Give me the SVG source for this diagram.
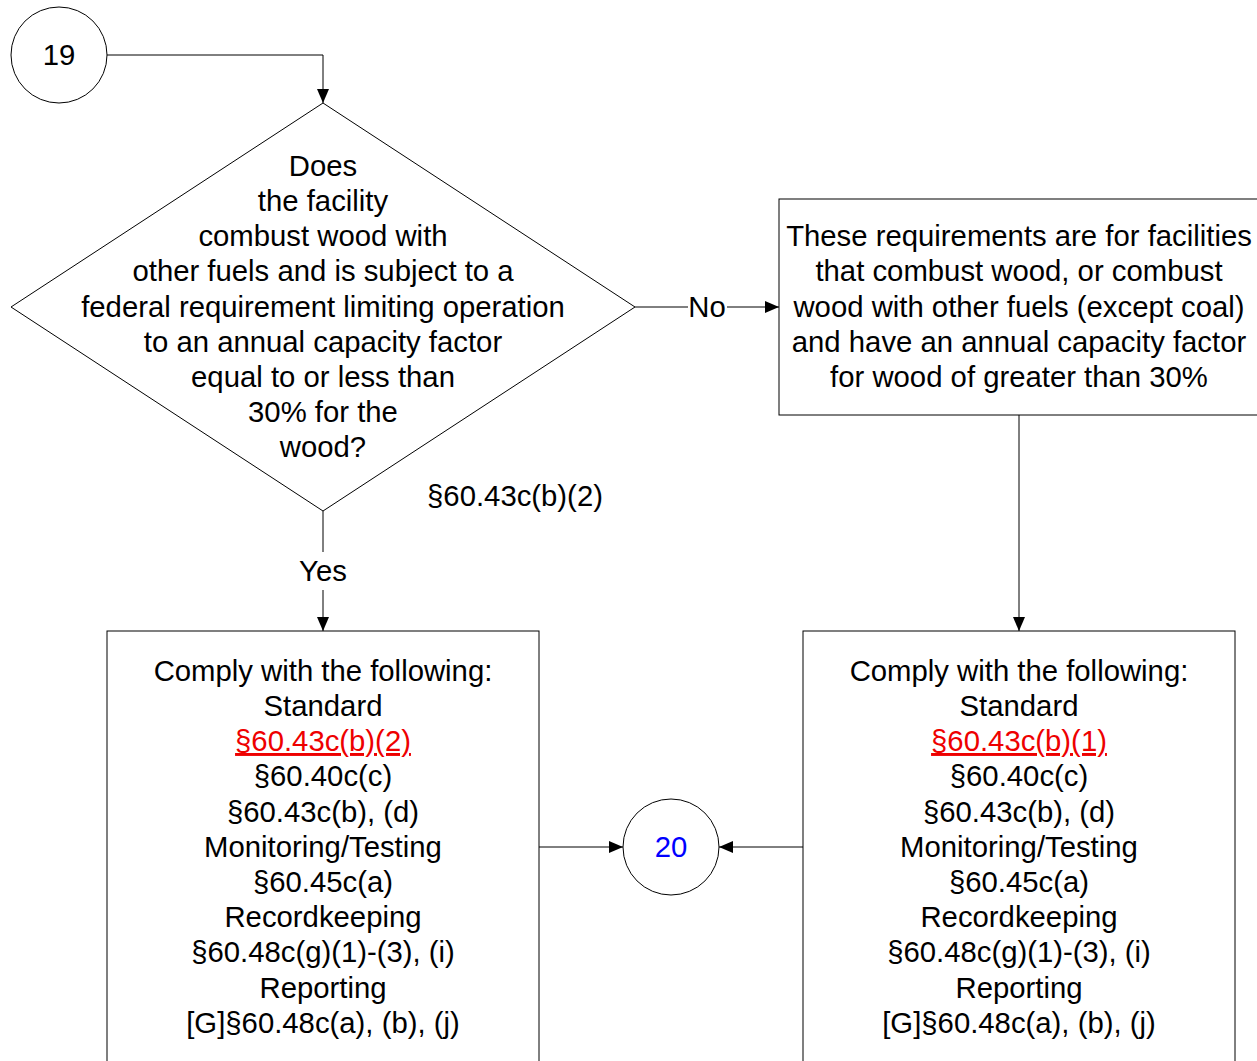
<svg xmlns="http://www.w3.org/2000/svg" width="1257" height="1061" viewBox="0 0 1257 1061">
<defs>
<style>
.s{fill:none;stroke:#000;stroke-width:1}
.n{fill:#fff;stroke:#000;stroke-width:1}
text{font-family:"Liberation Sans",Arial,sans-serif;font-size:29.3px;fill:#000;text-anchor:middle}
.red{fill:#e00;text-decoration:underline}
.blue{fill:#00f}
</style>
<marker id="a" markerWidth="14" markerHeight="14" viewBox="0 0 14 14" refX="14" refY="7" orient="auto" markerUnits="userSpaceOnUse"><path d="M0,1 L14,7 L0,13 z" fill="#000"/></marker>
</defs>
<rect width="1257" height="1061" fill="#fff"/>
<g id="connectors">
<path class="s" d="M107,55 H323 V103" marker-end="url(#a)"/>
<path class="s" d="M635,307 H688"/>
<path class="s" d="M727,307 H779" marker-end="url(#a)"/>
<text x="707" y="317">No</text>
<path class="s" d="M323,511 V552"/>
<path class="s" d="M323,590 V631" marker-end="url(#a)"/>
<text x="323" y="581">Yes</text>
<path class="s" d="M1019,415 V631" marker-end="url(#a)"/>
<path class="s" d="M539,847 H623" marker-end="url(#a)"/>
<path class="s" d="M803,847 H719" marker-end="url(#a)"/>
</g>
<g id="n19">
<circle class="n" cx="59" cy="55" r="48"/>
<text x="59" y="65">19</text>
</g>
<g id="decision">
<polygon class="n" points="323,103 635,307 323,511 11,307"/>
<text x="323" y="176">Does</text>
<text x="323" y="211">the facility</text>
<text x="323" y="246">combust wood with</text>
<text x="323" y="281">other fuels and is subject to a</text>
<text x="323" y="317">federal requirement limiting operation</text>
<text x="323" y="352">to an annual capacity factor</text>
<text x="323" y="387">equal to or less than</text>
<text x="323" y="422">30% for the</text>
<text x="323" y="457">wood?</text>
<text x="515" y="506">§60.43c(b)(2)</text>
</g>
<g id="info">
<rect class="n" x="779" y="199" width="490" height="216"/>
<text x="1019" y="246">These requirements are for facilities</text>
<text x="1019" y="281">that combust wood, or combust</text>
<text x="1019" y="317">wood with other fuels (except coal)</text>
<text x="1019" y="352">and have an annual capacity factor</text>
<text x="1019" y="387">for wood of greater than 30%</text>
</g>
<g id="left-box">
<rect class="n" x="107" y="631" width="432" height="450"/>
<text x="323" y="681">Comply with the following:</text>
<text x="323" y="716">Standard</text>
<text x="323" y="751" class="red">§60.43c(b)(2)</text>
<text x="323" y="786">§60.40c(c)</text>
<text x="323" y="822">§60.43c(b), (d)</text>
<text x="323" y="857">Monitoring/Testing</text>
<text x="323" y="892">§60.45c(a)</text>
<text x="323" y="927">Recordkeeping</text>
<text x="323" y="962">§60.48c(g)(1)-(3), (i)</text>
<text x="323" y="998">Reporting</text>
<text x="323" y="1033">[G]§60.48c(a), (b), (j)</text>
</g>
<g id="right-box">
<rect class="n" x="803" y="631" width="432" height="450"/>
<text x="1019" y="681">Comply with the following:</text>
<text x="1019" y="716">Standard</text>
<text x="1019" y="751" class="red">§60.43c(b)(1)</text>
<text x="1019" y="786">§60.40c(c)</text>
<text x="1019" y="822">§60.43c(b), (d)</text>
<text x="1019" y="857">Monitoring/Testing</text>
<text x="1019" y="892">§60.45c(a)</text>
<text x="1019" y="927">Recordkeeping</text>
<text x="1019" y="962">§60.48c(g)(1)-(3), (i)</text>
<text x="1019" y="998">Reporting</text>
<text x="1019" y="1033">[G]§60.48c(a), (b), (j)</text>
</g>
<g id="n20">
<circle class="n" cx="671" cy="847" r="48"/>
<text x="671" y="857" class="blue">20</text>
</g>
</svg>
